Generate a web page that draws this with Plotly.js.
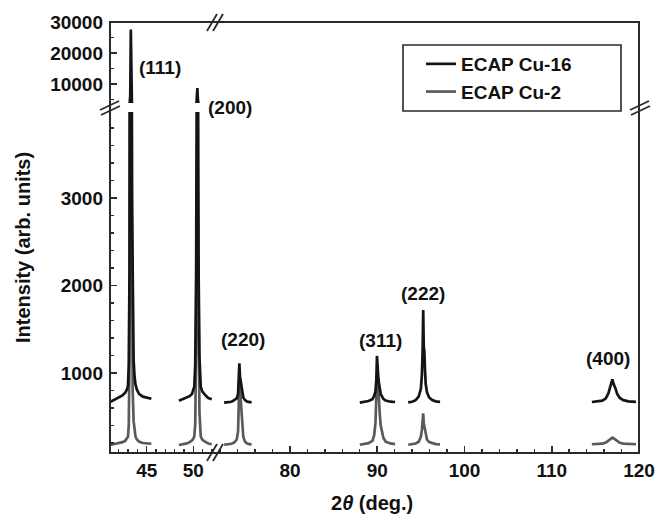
<!DOCTYPE html>
<html>
<head>
<meta charset="utf-8">
<script src="https://cdn.plot.ly/plotly-3.0.1.min.js"></script>
<style>html,body{margin:0;padding:0;background:#fff;}#chart{width:672px;height:520px;}</style>
</head>
<body>
<div id="chart"></div>
<script>
// ---- data (2theta in degrees, intensity in arb. units)
const seriesNames = ['ECAP Cu-16', 'ECAP Cu-2'];
const peakLabels = ['(111)', '(200)', '(220)', '(311)', '(222)', '(400)'];

const x111 = [41.07, 41.5, 42.0, 42.4, 42.7, 42.9, 43.0, 43.08, 43.16, 43.24, 43.3, 43.36, 43.42, 43.5, 43.6, 43.7, 43.8, 43.95, 44.2, 44.6, 45.0, 45.5];
const cu16_111 = [668, 690, 718, 745, 775, 815, 860, 1100, 2200, 6500, 27600, 9000, 3000, 1600, 1150, 960, 870, 810, 760, 730, 716, 706];
const cu2_111 = [177, 185, 196, 210, 225, 250, 275, 400, 1200, 4000, 8000, 5000, 1800, 800, 450, 320, 275, 240, 215, 200, 195, 192];

const x200 = [48.45, 48.9, 49.3, 49.6, 49.85, 50.0, 50.1, 50.2, 50.3, 50.38, 50.43, 50.48, 50.56, 50.65, 50.79, 50.95, 51.25, 51.6, 51.97];
const cu16_200 = [683, 700, 717, 735, 760, 800, 845, 1100, 2200, 5000, 8700, 5200, 2200, 1200, 845, 790, 750, 715, 700];
const cu2_200 = [178, 186, 196, 210, 228, 250, 275, 420, 1300, 3200, 3800, 3000, 1300, 560, 275, 240, 215, 195, 186];

const x220 = [72.45, 72.9, 73.3, 73.6, 73.9, 74.05, 74.12, 74.2, 74.27, 74.35, 74.42, 74.5, 74.65, 74.85, 75.1, 75.6];
const cu16_220 = [662, 666, 672, 690, 711, 760, 900, 1110, 960, 900, 860, 780, 720, 690, 673, 665];
const cu2_220 = [180, 184, 192, 205, 240, 330, 600, 900, 820, 700, 520, 370, 270, 215, 195, 182];

const x311 = [88.0, 88.5, 89.0, 89.45, 89.65, 89.8, 89.9, 89.97, 90.04, 90.12, 90.2, 90.3, 90.4, 90.7, 90.97, 91.5, 92.05];
const cu16_311 = [661, 667, 680, 700, 740, 790, 930, 1195, 1000, 960, 880, 800, 760, 705, 685, 672, 669];
const cu2_311 = [180, 185, 198, 225, 290, 430, 700, 950, 900, 820, 700, 520, 400, 260, 215, 195, 188];

const x222 = [93.55, 94.0, 94.4, 94.75, 95.0, 95.12, 95.2, 95.27, 95.33, 95.4, 95.47, 95.55, 95.7, 95.95, 96.3, 96.7, 97.2];
const cu16_222 = [664, 672, 690, 730, 820, 980, 1250, 1720, 1300, 1250, 1050, 880, 780, 720, 690, 676, 670];
const cu2_222 = [180, 184, 195, 215, 270, 350, 450, 540, 430, 390, 330, 280, 240, 210, 195, 187, 185];

const x400 = [114.6, 115.2, 115.8, 116.2, 116.5, 116.75, 116.95, 117.1, 117.3, 117.5, 117.8, 118.2, 118.8, 119.65];
const cu16_400 = [669, 673, 685, 710, 770, 860, 928, 870, 826, 760, 715, 690, 676, 670];
const cu2_400 = [186, 187, 192, 205, 225, 248, 261, 252, 238, 218, 202, 193, 188, 186];

// ---- styling
const FONT = 'Liberation Sans, Arial, sans-serif';
const C16 = '#141414';
const C2 = '#5a5a5a';
const AX = '#2a2a2a';

// plot area in pixels (for decorations only)
const L = 110, R = 639, T = 22, B = 453;
const px = v => (v - L) / (R - L);
const py = v => (B - v) / (B - T);

const traces = [];
function addTrace(x, y, color, xa, ya, name, show, rank) {
  traces.push({
    type: 'scatter', mode: 'lines', x: x, y: y, xaxis: xa, yaxis: ya,
    name: name, showlegend: show, legendgroup: name, legendrank: rank,
    line: {color: color, width: 2.7},
    hoverinfo: 'x+y'
  });
}
// Cu-2 (grey) drawn first, Cu-16 (black) on top
const leftPeaks = [[x111, cu16_111, cu2_111], [x200, cu16_200, cu2_200]];
const rightPeaks = [[x220, cu16_220, cu2_220], [x311, cu16_311, cu2_311], [x222, cu16_222, cu2_222], [x400, cu16_400, cu2_400]];
let firstGrey = true;
leftPeaks.forEach(p => { ['y', 'y2'].forEach(ya => { addTrace(p[0], p[2], C2, 'x', ya, seriesNames[1], firstGrey, 2); firstGrey = false; }); });
rightPeaks.forEach(p => addTrace(p[0], p[2], C2, 'x2', 'y', seriesNames[1], false, 2));
let firstBlack = true;
leftPeaks.forEach(p => { ['y', 'y2'].forEach(ya => { addTrace(p[0], p[1], C16, 'x', ya, seriesNames[0], firstBlack, 1); firstBlack = false; }); });
rightPeaks.forEach(p => addTrace(p[0], p[1], C16, 'x2', 'y', seriesNames[0], false, 1));

const tickFont = {family: FONT, size: 19, color: '#111', weight: 700};
function ax(extra) {
  return Object.assign({
    showgrid: false, zeroline: false, showline: false,
    ticks: 'inside', ticklen: 7, tickwidth: 1.6, tickcolor: AX,
    tickfont: tickFont, tickformat: 'd', exponentformat: 'none', separatethousands: false,
    fixedrange: true
  }, extra);
}
const minorTicks = d => ({dtick: d, tick0: 0, ticks: 'inside', ticklen: 4, tickwidth: 1.4, tickcolor: AX});

const xL = [41.07, 52.29], xR = [71.5, 120];
const yLo = [86, 3983], yHi = [3870, 30010];
const domXL = [0, 0.198], domXR = [0.2, 1];
const domYLo = [0, 0.7912], domYHi = [0.8121, 1];

const layout = {
  width: 672, height: 520,
  margin: {l: L, r: 672 - R, t: T, b: 520 - B, pad: 0},
  paper_bgcolor: '#fff', plot_bgcolor: '#fff',
  font: {family: FONT, color: '#111'},
  separators: '.',
  showlegend: true,
  legend: {
    x: px(421), y: py(45), xanchor: 'left', yanchor: 'top',
    bgcolor: 'rgba(0,0,0,0)', borderwidth: 0,
    font: {family: FONT, size: 19, color: '#111', weight: 700},
    tracegroupgap: 0, traceorder: 'normal'
  },
  xaxis: ax({domain: domXL, range: xL, anchor: 'y', tick0: 0, dtick: 5, ticklabelstandoff: 4, minor: minorTicks(1)}),
  xaxis2: ax({domain: domXR, range: xR, anchor: 'y', tick0: 0, dtick: 10, ticklabelstandoff: 4, minor: minorTicks(2)}),
  xaxis3: ax({overlaying: 'x', range: xL, anchor: 'y2', side: 'top', showticklabels: false, tick0: 0, dtick: 5, minor: minorTicks(1)}),
  xaxis4: ax({overlaying: 'x2', range: xR, anchor: 'y2', side: 'top', showticklabels: false, tick0: 0, dtick: 10, minor: minorTicks(2)}),
  yaxis: ax({domain: domYLo, range: yLo, anchor: 'x', tick0: 0, dtick: 1000, ticklabelstandoff: 6, minor: minorTicks(200)}),
  yaxis2: ax({domain: domYHi, range: yHi, anchor: 'x', tick0: 0, dtick: 10000, ticklabelstandoff: 6, minor: minorTicks(5000)}),
  yaxis3: ax({overlaying: 'y', range: yLo, anchor: 'x2', side: 'right', showticklabels: false, tick0: 0, dtick: 1000, minor: minorTicks(200)}),
  yaxis4: ax({overlaying: 'y2', range: yHi, anchor: 'x2', side: 'right', showticklabels: false, tick0: 0, dtick: 10000, minor: minorTicks(5000)}),
  annotations: [],
  shapes: []
};

// axis titles
layout.annotations.push({xref: 'paper', yref: 'paper', x: px(23), y: py(248), xanchor: 'center', yanchor: 'middle',
  text: 'Intensity (arb. units)', textangle: -90, showarrow: false,
  font: {family: FONT, size: 20, color: '#111', weight: 700}});
layout.annotations.push({xref: 'paper', yref: 'paper', x: px(372), y: py(503), xanchor: 'center', yanchor: 'middle',
  text: '2<i>θ</i> (deg.)', showarrow: false, font: {family: FONT, size: 20, color: '#111', weight: 700}});

// peak labels
const labelPos = [[160, 67], [230, 107], [243, 339], [380, 340], [423, 293], [608, 358]];
peakLabels.forEach((t, i) => layout.annotations.push({xref: 'paper', yref: 'paper',
  x: px(labelPos[i][0]), y: py(labelPos[i][1]), xanchor: 'center', yanchor: 'middle',
  text: t, showarrow: false, font: {family: FONT, size: 19, color: '#111', weight: 700}}));

// frame
layout.shapes.push({type: 'rect', xref: 'paper', yref: 'paper', x0: 0, x1: 1, y0: 0, y1: 1, layer: 'above',
  line: {color: AX, width: 2}});
// legend box
layout.shapes.push({type: 'rect', xref: 'paper', yref: 'paper', x0: px(403), x1: px(621), y0: py(111), y1: py(45), layer: 'above',
  line: {color: AX, width: 1.6}});
// axis break marks
function seg(x0, y0, x1, y1) {
  layout.shapes.push({type: 'line', xref: 'paper', yref: 'paper', x0: px(x0), y0: py(y0), x1: px(x1), y1: py(y1), layer: 'above',
    line: {color: AX, width: 1.8}});
}
[[207, 461, 217, 444], [213, 461, 223, 444]].forEach(s => seg(...s));          // bottom
[[207, 31, 217, 14], [213, 31, 223, 14]].forEach(s => seg(...s));              // top
[[100, 110, 119, 101], [101, 115, 120, 106]].forEach(s => seg(...s));          // left
[[630, 110, 649, 101], [631, 115, 650, 106]].forEach(s => seg(...s));          // right

Plotly.newPlot('chart', traces, layout, {displayModeBar: false, staticPlot: true});
</script>
</body>
</html>
